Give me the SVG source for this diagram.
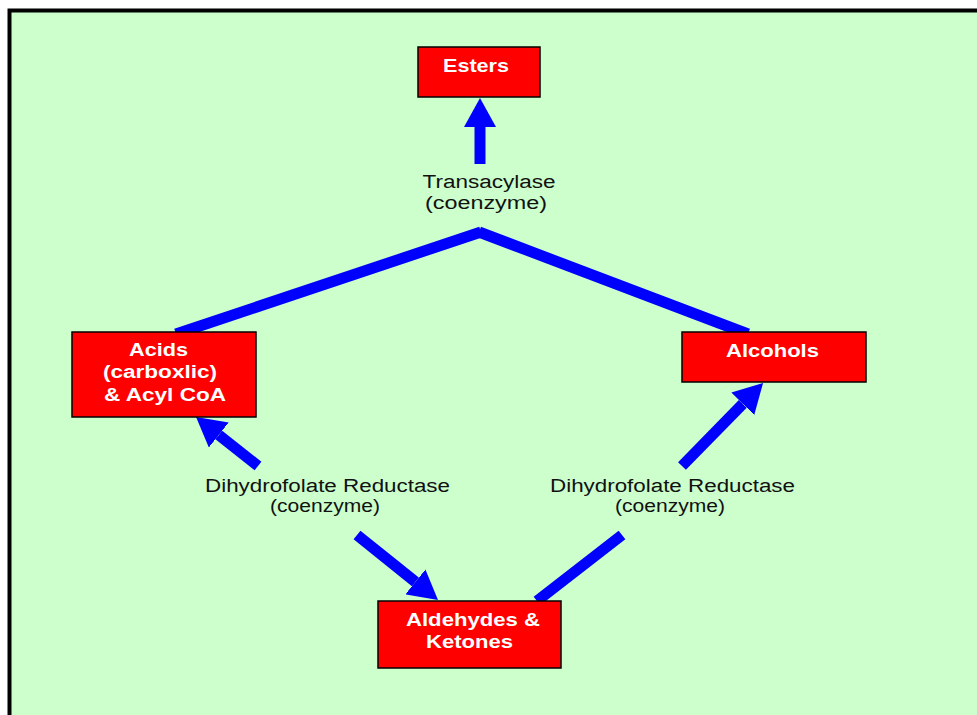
<svg xmlns="http://www.w3.org/2000/svg" width="977" height="715" viewBox="0 0 977 715">
  <defs>
    <marker id="head" markerUnits="userSpaceOnUse" viewBox="0 0 30 32" markerWidth="30" markerHeight="32" refX="0" refY="16" orient="auto">
      <path d="M0,0 L29,16 L0,32 Z" fill="#0000FF"/>
    </marker>
    <style>
      .box { fill: #FF0000; stroke: #000000; stroke-width: 1.5; }
      .lbl { fill: #FFFFFF; font-family: "Liberation Sans", Arial, sans-serif; font-weight: bold; font-size: 18px; text-anchor: middle; }
      .note { fill: #111111; font-family: "Liberation Sans", Arial, sans-serif; font-size: 18px; text-anchor: middle; }
      .wire { stroke: #0000FF; stroke-width: 11; fill: none; stroke-linecap: butt; }
      .arrow { stroke: #0000FF; stroke-width: 11; fill: none; stroke-linecap: butt; marker-end: url(#head); }
    </style>
  </defs>

  <!-- background panel -->
  <rect x="9.5" y="10.5" width="990" height="730" fill="#CCFFCC" stroke="#000000" stroke-width="4"/>

  <!-- connectors -->
  <g id="connectors">
    <line class="arrow" x1="480" y1="164" x2="480" y2="127"/>
    <line class="wire" x1="176" y1="334" x2="481" y2="232"/>
    <line class="wire" x1="479" y1="232" x2="748" y2="334"/>
    <line class="arrow" x1="258" y1="466" x2="218.8" y2="435"/>
    <line class="arrow" x1="682" y1="466" x2="742.8" y2="403.8"/>
    <line class="arrow" x1="357" y1="535" x2="415.4" y2="581.9"/>
    <line class="wire" x1="622" y1="535" x2="537" y2="601"/>
  </g>

  <!-- enzyme labels -->
  <g id="transacylase">
    <text class="note" x="489" y="188" textLength="133" lengthAdjust="spacingAndGlyphs">Transacylase</text>
    <text class="note" x="486" y="209" textLength="122" lengthAdjust="spacingAndGlyphs">(coenzyme)</text>
  </g>
  <g id="reductase-left">
    <text class="note" x="327.5" y="492" textLength="245" lengthAdjust="spacingAndGlyphs">Dihydrofolate Reductase</text>
    <text class="note" x="325" y="512" textLength="110" lengthAdjust="spacingAndGlyphs">(coenzyme)</text>
  </g>
  <g id="reductase-right">
    <text class="note" x="672.5" y="492" textLength="245" lengthAdjust="spacingAndGlyphs">Dihydrofolate Reductase</text>
    <text class="note" x="670" y="512" textLength="110" lengthAdjust="spacingAndGlyphs">(coenzyme)</text>
  </g>

  <!-- nodes -->
  <g id="esters">
    <rect class="box" x="418" y="47" width="122" height="50"/>
    <text class="lbl" x="476" y="72" textLength="66" lengthAdjust="spacingAndGlyphs">Esters</text>
  </g>
  <g id="acids">
    <rect class="box" x="72" y="332" width="184" height="85"/>
    <text class="lbl" x="158.5" y="356" textLength="59" lengthAdjust="spacingAndGlyphs">Acids</text>
    <text class="lbl" x="160" y="378" textLength="114" lengthAdjust="spacingAndGlyphs">(carboxlic)</text>
    <text class="lbl" x="165" y="401" textLength="122" lengthAdjust="spacingAndGlyphs">&amp; Acyl CoA</text>
  </g>
  <g id="alcohols">
    <rect class="box" x="682" y="332" width="184" height="50"/>
    <text class="lbl" x="772.5" y="357" textLength="93" lengthAdjust="spacingAndGlyphs">Alcohols</text>
  </g>
  <g id="aldehydes">
    <rect class="box" x="378" y="601" width="183" height="67"/>
    <text class="lbl" x="473" y="626" textLength="134" lengthAdjust="spacingAndGlyphs">Aldehydes &amp;</text>
    <text class="lbl" x="469.5" y="648" textLength="87" lengthAdjust="spacingAndGlyphs">Ketones</text>
  </g>
</svg>
